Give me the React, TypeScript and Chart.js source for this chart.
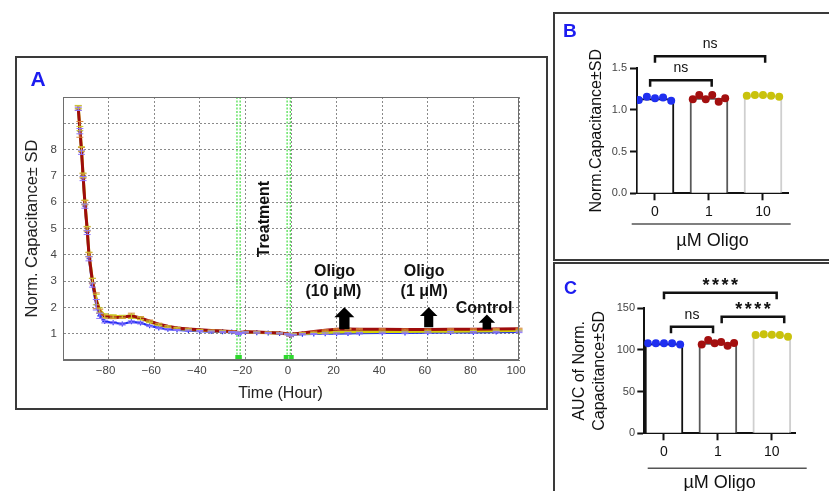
import React, { useEffect, useRef } from 'react';
import { Chart, registerables } from 'chart.js';

Chart.register(...registerables);

const FONT = "'Liberation Sans', Arial, Helvetica, sans-serif";
Chart.defaults.font.family = FONT;
Chart.defaults.color = '#222';

// ---------------- Panel A : normalised capacitance time course ----------------
const timeHours = [
  -93.3, -92.6, -91.9, -91.2, -90.4, -89.4, -88.6, -87.1, -85.4, -83.9,
  -81.7, -78, -74, -70, -66, -62, -58, -54, -50, -45,
  -40, -35, -30, -26, -24, -23, -22, -20, -15, -10,
  -5, -1.5, -0.5, 1, 5, 10, 15, 20, 25, 30,
  40, 50, 60, 70, 80, 90, 100,
];
// dark red trace
const capOligo1 = [
  9.58, 8.77, 8.0, 7.0, 5.98, 4.98, 4.0, 3.0, 2.25, 1.85,
  1.65, 1.62, 1.63, 1.68, 1.6, 1.48, 1.36, 1.28, 1.22, 1.18,
  1.15, 1.12, 1.1, 1.08, 1.07, 1.01, 1.05, 1.07, 1.06, 1.05,
  1.03, 1.0, 0.92, 0.99, 1.03, 1.08, 1.13, 1.17, 1.18, 1.17,
  1.17, 1.16, 1.16, 1.17, 1.17, 1.18, 1.19,
];
// yellow trace
const capOligo10 = [
  9.62, 8.8, 8.03, 7.03, 6.0, 5.0, 4.02, 3.03, 2.3, 1.9,
  1.68, 1.66, 1.65, 1.66, 1.58, 1.45, 1.34, 1.26, 1.2, 1.16,
  1.13, 1.11, 1.09, 1.07, 1.06, 1.0, 1.04, 1.06, 1.05, 1.04,
  1.02, 0.99, 0.93, 0.98, 1.01, 1.03, 1.05, 1.06, 1.07, 1.07,
  1.08, 1.08, 1.09, 1.09, 1.1, 1.11, 1.12,
];
// blue trace
const capControl = [
  9.55, 8.7, 7.9, 6.9, 5.85, 4.85, 3.85, 2.85, 2.1, 1.68,
  1.46, 1.42, 1.37, 1.45, 1.41, 1.3, 1.22, 1.17, 1.14, 1.12,
  1.1, 1.08, 1.07, 1.06, 1.05, 0.99, 1.03, 1.05, 1.04, 1.03,
  1.01, 0.98, 0.93, 0.96, 0.98, 0.99, 1.0, 1.0, 1.01, 1.02,
  1.03, 1.03, 1.04, 1.05, 1.05, 1.06, 1.07,
];
const sdOligo1 = [
  0.08, 0.3, 0.08, 0.08, 0.08, 0.08, 0.08, 0.1, 0.3, 0.08,
  0.06, 0.05, 0.05, 0.1, 0.05, 0.04, 0.04, 0.03, 0.03, 0.03,
  0.02, 0.02, 0.02, 0.02, 0.02, 0.02, 0.02, 0.02, 0.02, 0.02,
  0.02, 0.02, 0.02, 0.02, 0.02, 0.02, 0.02, 0.02, 0.02, 0.02,
  0.02, 0.02, 0.02, 0.02, 0.02, 0.02, 0.02,
];
const sdOligo10 = [
  0.06, 0.08, 0.08, 0.08, 0.08, 0.08, 0.08, 0.08, 0.2, 0.08,
  0.08, 0.06, 0.05, 0.08, 0.05, 0.03, 0.03, 0.03, 0.03, 0.02,
  0.02, 0.02, 0.02, 0.02, 0.02, 0.02, 0.02, 0.02, 0.02, 0.02,
  0.02, 0.02, 0.02, 0.02, 0.02, 0.02, 0.02, 0.02, 0.02, 0.02,
  0.02, 0.02, 0.02, 0.02, 0.02, 0.02, 0.02,
];
const sdControl = [
  0.06, 0.1, 0.08, 0.08, 0.08, 0.08, 0.08, 0.08, 0.2, 0.1,
  0.05, 0.04, 0.04, 0.04, 0.04, 0.03, 0.03, 0.03, 0.02, 0.02,
  0.02, 0.02, 0.02, 0.02, 0.02, 0.02, 0.02, 0.02, 0.02, 0.02,
  0.02, 0.02, 0.02, 0.02, 0.02, 0.02, 0.03, 0.03, 0.03, 0.03,
  0.03, 0.03, 0.03, 0.03, 0.03, 0.03, 0.03,
];

const treatmentTimes = [-23, -1];
const treatmentBoxCounts = [1, 2];

const noteTexts = ['Treatment', 'Oligo', '(10 μM)', 'Oligo', '(1 μM)', 'Control'];
const noteTimes = [-11.8, 19.1, 18.6, 58.4, 58.4, 84.7];
const noteValues = [5.36, 3.36, 2.6, 3.36, 2.6, 1.95];
const noteVertical = [true, false, false, false, false, false];

const arrowTimes = [23.4, 60.4, 85.9];
const arrowTips = [2.01, 2.01, 1.73];
const arrowBases = [1.17, 1.25, 1.17];

// ---------------- Panels B and C ----------------
const doseLabels = ['0', '1', '10'];
const normCapDose0 = [1.12, 1.16, 1.14, 1.15, 1.11];
const normCapDose1 = [1.13, 1.18, 1.13, 1.18, 1.1, 1.14];
const normCapDose10 = [1.17, 1.18, 1.18, 1.17, 1.16];
const aucDose0 = [108, 108, 108, 108, 106.5];
const aucDose1 = [106.7, 111.9, 108, 109.6, 105, 108.4];
const aucDose10 = [118, 118.8, 118.3, 118, 116];

const bracketsB = [
  { from: 0, to: 2.04, y: 1.646, label: 'ns' },
  { from: -0.09, to: 1.05, y: 1.357, label: 'ns' },
];
const bracketsC = [
  { from: 0, to: 2.09, y: 168.6, label: '****' },
  { from: 0.13, to: 0.91, y: 127.8, label: 'ns' },
  { from: 1.07, to: 2.23, y: 139.8, label: '****' },
];

// ---------------- styles ----------------
const RED = '#9e0c0c';
const YELLOW = '#d2d20a';
const BLUE = '#1f2ff0';
const DOT_COLORS = [BLUE, '#a30f0f', '#c9c20c'];
const BAR_EDGES = ['#111111', '#595959', '#cfcfcf'];
const ARROW_HEAD_PX = [20, 17.5, 16.5];

const timecoursePlugin = {
  id: 'timecourse',
  beforeDatasetsDraw(chart: any) {
    const { ctx, chartArea: ca, scales } = chart;
    const xs = scales.x;
    ctx.save();
    treatmentTimes.forEach((t, i) => {
      const px = xs.getPixelForValue(t);
      ctx.strokeStyle = '#52e052';
      ctx.lineWidth = 1.3;
      ctx.setLineDash([2, 1.5]);
      [-1.6, 1.6].forEach((dx) => {
        ctx.beginPath();
        ctx.moveTo(px + dx, ca.top);
        ctx.lineTo(px + dx, ca.bottom);
        ctx.stroke();
      });
      ctx.setLineDash([]);
      const n = treatmentBoxCounts[i];
      const w = n === 1 ? 6.5 : 10;
      ctx.fillStyle = '#2ed82e';
      ctx.fillRect(px - w / 2, ca.bottom - 5, w, 5);
      if (n > 1) {
        ctx.strokeStyle = '#a8f5a8';
        ctx.lineWidth = 1;
        ctx.beginPath();
        ctx.moveTo(px, ca.bottom - 4);
        ctx.lineTo(px, ca.bottom - 1);
        ctx.stroke();
      }
    });
    ctx.restore();
  },
  afterDatasetsDraw(chart: any) {
    const { ctx, chartArea: ca, scales } = chart;
    const xs = scales.x;
    const ys = scales.y;
    ctx.save();
    // error bars
    chart.data.datasets.forEach((ds: any, di: number) => {
      const meta = chart.getDatasetMeta(di);
      ctx.strokeStyle = ds.errColor;
      ctx.lineWidth = 1;
      meta.data.forEach((el: any, j: number) => {
        const v = ds.data[j].y;
        const s = ds.sd[j];
        const y1 = ys.getPixelForValue(v - s);
        const y2 = ys.getPixelForValue(v + s);
        ctx.beginPath();
        ctx.moveTo(el.x, y1);
        ctx.lineTo(el.x, y2);
        ctx.moveTo(el.x - 3.5, y1);
        ctx.lineTo(el.x + 3.5, y1);
        ctx.moveTo(el.x - 3.5, y2);
        ctx.lineTo(el.x + 3.5, y2);
        ctx.stroke();
      });
    });
    // frame
    ctx.strokeStyle = '#6e6e6e';
    ctx.lineWidth = 1;
    ctx.strokeRect(ca.left + 0.5, ca.top + 0.5, ca.right - ca.left - 1, ca.bottom - ca.top - 1);
    // arrows
    ctx.fillStyle = '#000';
    arrowTimes.forEach((t, i) => {
      const px = xs.getPixelForValue(t);
      const tip = ys.getPixelForValue(arrowTips[i]);
      const base = ys.getPixelForValue(arrowBases[i]);
      const hw = ARROW_HEAD_PX[i];
      const hh = hw * 0.5;
      const sw = hw * 0.52;
      ctx.beginPath();
      ctx.moveTo(px, tip);
      ctx.lineTo(px + hw / 2, tip + hh);
      ctx.lineTo(px + sw / 2, tip + hh);
      ctx.lineTo(px + sw / 2, base);
      ctx.lineTo(px - sw / 2, base);
      ctx.lineTo(px - sw / 2, tip + hh);
      ctx.lineTo(px - hw / 2, tip + hh);
      ctx.closePath();
      ctx.fill();
    });
    // text notes
    ctx.fillStyle = '#111';
    ctx.font = `bold 16px ${FONT}`;
    ctx.textAlign = 'center';
    ctx.textBaseline = 'middle';
    noteTexts.forEach((txt, i) => {
      const px = xs.getPixelForValue(noteTimes[i]);
      const py = ys.getPixelForValue(noteValues[i]);
      if (noteVertical[i]) {
        ctx.save();
        ctx.translate(px, py);
        ctx.rotate(-Math.PI / 2);
        ctx.fillText(txt, 0, 0);
        ctx.restore();
      } else {
        ctx.fillText(txt, px, py);
      }
    });
    // x axis title
    ctx.font = `16px ${FONT}`;
    ctx.fillStyle = '#222';
    ctx.fillText('Time (Hour)', (ca.left + ca.right) / 2 - 10.5, ca.bottom + 34);
    ctx.restore();
  },
};

function makeSigPlugin(brackets: any[], groupLine: { dl: number; dr: number; dy: number }) {
  return {
    id: 'sigAnnot',
    afterDraw(chart: any) {
      const { ctx, chartArea: ca, scales } = chart;
      const xs = scales.x;
      const ys = scales.y;
      ctx.save();
      ctx.strokeStyle = '#111';
      ctx.fillStyle = '#111';
      ctx.lineWidth = 2.5;
      ctx.lineJoin = 'miter';
      brackets.forEach((b) => {
        const x0 = xs.getPixelForValue(b.from);
        const x1 = xs.getPixelForValue(b.to);
        const yy = ys.getPixelForValue(b.y);
        ctx.beginPath();
        ctx.moveTo(x0, yy + 6.5);
        ctx.lineTo(x0, yy);
        ctx.lineTo(x1, yy);
        ctx.lineTo(x1, yy + 6.5);
        ctx.stroke();
        const isStars = b.label !== 'ns';
        ctx.font = isStars ? `bold 18px ${FONT}` : `14px ${FONT}`;
        (ctx as any).letterSpacing = isStars ? '2.5px' : '0px';
        ctx.textAlign = 'center';
        ctx.textBaseline = 'alphabetic';
        const m = ctx.measureText(b.label);
        const cx = (x0 + x1) / 2 + (isStars ? 1.25 : 0);
        ctx.fillText(b.label, cx, yy - 8 - m.actualBoundingBoxDescent);
      });
      (ctx as any).letterSpacing = '0px';
      ctx.strokeStyle = '#555';
      ctx.lineWidth = 1.5;
      ctx.beginPath();
      ctx.moveTo(ca.left + groupLine.dl, ca.bottom + groupLine.dy);
      ctx.lineTo(ca.right + groupLine.dr, ca.bottom + groupLine.dy);
      ctx.stroke();
      ctx.restore();
    },
  };
}

function mean(a: number[]) {
  return a.reduce((s, v) => s + v, 0) / a.length;
}

function buildTimecourseConfig(): any {
  const mk = (vals: number[]) => timeHours.map((t, i) => ({ x: t, y: vals[i] }));
  return {
    type: 'line',
    data: {
      datasets: [
        {
          data: mk(capOligo1), sd: sdOligo1, errColor: '#d8843a',
          borderColor: RED, backgroundColor: RED, borderWidth: 3,
          pointRadius: 1.3, pointBorderWidth: 0, order: 0,
        },
        {
          data: mk(capOligo10), sd: sdOligo10, errColor: '#c8c830',
          borderColor: YELLOW, backgroundColor: YELLOW, borderWidth: 3,
          pointRadius: 1.3, pointBorderWidth: 0, order: 1,
        },
        {
          data: mk(capControl), sd: sdControl, errColor: '#8c74ff',
          borderColor: BLUE, backgroundColor: BLUE, borderWidth: 2.2,
          pointStyle: 'cross', pointRadius: 2.5, pointBorderWidth: 1.2,
          pointBorderColor: BLUE, order: 2,
        },
      ],
    },
    options: {
      responsive: false,
      animation: false,
      events: [],
      layout: { padding: { left: 0, top: 39, right: 26, bottom: 0 } },
      plugins: { legend: { display: false }, tooltip: { enabled: false } },
      scales: {
        x: {
          type: 'linear',
          min: -100,
          max: 100,
          ticks: {
            stepSize: 20,
            padding: 4,
            maxRotation: 0,
            autoSkip: false,
            labelOffset: -3,
            font: { size: 11.5 },
            color: '#444',
            callback: (v: number) => (v === -100 ? '' : String(v).replace('-', '\u2212')),
          },
          grid: { color: '#8a8a8a', lineWidth: 1, drawTicks: false },
          border: { display: true, color: '#6e6e6e', dash: [2, 2] },
          afterFit: (s: any) => {
            s.height = 48;
          },
        },
        y: {
          type: 'linear',
          min: 0,
          max: 10,
          ticks: {
            stepSize: 1,
            padding: 6,
            font: { size: 11.5 },
            color: '#444',
            callback: (v: number) => (v >= 1 && v <= 8 ? String(v) : ''),
          },
          grid: { color: '#8a8a8a', lineWidth: 1, drawTicks: false },
          border: { display: true, color: '#6e6e6e', dash: [2, 2] },
          title: {
            display: true,
            text: 'Norm. Capacitance\u00b1 SD',
            font: { size: 16.5 },
            color: '#222',
            padding: { top: 6, bottom: 0 },
          },
          afterFit: (s: any) => {
            s.width = 46;
          },
        },
      },
    },
    plugins: [timecoursePlugin],
  };
}

function buildBarConfig(p: any): any {
  const groups = p.groups as number[][];
  const dotSets = groups.map((vals, gi) => ({
    type: 'scatter',
    data: vals.map((v, i) => ({ x: gi + (vals.length > 1 ? (i / (vals.length - 1) - 0.5) * 0.6 : 0), y: v })),
    backgroundColor: DOT_COLORS[gi],
    borderWidth: 0,
    pointRadius: 4,
    order: 0,
  }));
  return {
    type: 'bar',
    data: {
      datasets: [
        ...dotSets,
        {
          type: 'bar',
          data: groups.map((vals, gi) => ({ x: gi, y: mean(vals) })),
          backgroundColor: '#ffffff',
          borderColor: BAR_EDGES,
          borderWidth: 2,
          barThickness: 38,
          order: 1,
        },
      ],
    },
    options: {
      responsive: false,
      animation: false,
      events: [],
      layout: { padding: p.padding },
      plugins: { legend: { display: false }, tooltip: { enabled: false } },
      scales: {
        x: {
          type: 'linear',
          min: p.xMin,
          max: p.xMax,
          offset: false,
          afterBuildTicks: (s: any) => {
            s.ticks = [0, 1, 2].map((v) => ({ value: v }));
          },
          ticks: {
            padding: p.xTickPad,
            autoSkip: false,
            maxRotation: 0,
            font: { size: 14 },
            color: '#111',
            callback: (v: number) => doseLabels[v] ?? '',
          },
          grid: { offset: false, drawOnChartArea: false, tickLength: 7, tickColor: '#111', tickWidth: 2 },
          border: { display: true, color: '#111', width: 2 },
          title: {
            display: true,
            text: '\u00b5M Oligo',
            font: { size: 18 },
            color: '#111',
            padding: { top: 0, bottom: p.xTitlePadBottom },
          },
          afterFit: (s: any) => {
            s.height = p.xHeight;
          },
        },
        y: {
          type: 'linear',
          min: 0,
          max: p.yMax,
          ticks: {
            stepSize: p.yStep,
            padding: p.yTickPad,
            font: { size: 11 },
            color: '#444',
            callback: (v: number) => Number(v).toFixed(p.yDecimals),
          },
          grid: { drawOnChartArea: false, tickLength: 7, tickColor: '#111', tickWidth: 2 },
          border: { display: true, color: '#111', width: 2 },
          title: {
            display: true,
            text: p.yTitle,
            font: { size: 16 },
            color: '#111',
            padding: { top: p.yTitlePadTop, bottom: 0 },
          },
          afterFit: (s: any) => {
            s.width = p.yWidth;
          },
        },
      },
    },
    plugins: [makeSigPlugin(p.brackets, p.groupLine)],
  };
}

const boxStyle = (left: number, top: number, width: number, height: number): React.CSSProperties => ({
  position: 'absolute',
  left,
  top,
  width,
  height,
  border: '2px solid #3a3a3a',
  boxSizing: 'border-box',
});

const letterStyle = (left: number, top: number, size: number): React.CSSProperties => ({
  position: 'absolute',
  left,
  top,
  font: `bold ${size}px ${FONT}`,
  lineHeight: 1,
  color: '#1c1cf0',
});

export default function App() {
  const aRef = useRef<HTMLCanvasElement>(null);
  const bRef = useRef<HTMLCanvasElement>(null);
  const cRef = useRef<HTMLCanvasElement>(null);

  useEffect(() => {
    const charts = [
      new Chart(aRef.current as HTMLCanvasElement, buildTimecourseConfig()),
      new Chart(
        bRef.current as HTMLCanvasElement,
        buildBarConfig({
          groups: [normCapDose0, normCapDose1, normCapDose10],
          yMax: 1.5,
          yStep: 0.5,
          yDecimals: 1,
          yTitle: 'Norm.Capacitance\u00b1SD',
          xMin: -0.333,
          xMax: 2.463,
          padding: { left: 0, top: 53.3, right: 41, bottom: 0 },
          yWidth: 82,
          xHeight: 62.7,
          yTickPad: 3,
          xTickPad: 3.6,
          yTitlePadTop: 32,
          xTitlePadBottom: 4.5,
          brackets: bracketsB,
          groupLine: { dl: -5.3, dr: 2.7, dy: 30.7 },
        })
      ),
      new Chart(
        cRef.current as HTMLCanvasElement,
        buildBarConfig({
          groups: [aucDose0, aucDose1, aucDose10],
          yMax: 150,
          yStep: 50,
          yDecimals: 0,
          yTitle: ['AUC of Norm.', 'Capacitance\u00b1SD'],
          xMin: -0.365,
          xMax: 2.43,
          padding: { left: 0, top: 43.3, right: 34, bottom: 0 },
          yWidth: 89.3,
          xHeight: 71.7,
          yTickPad: 2.3,
          xTickPad: 3,
          yTitlePadTop: 15.4,
          xTitlePadBottom: 10.9,
          brackets: bracketsC,
          groupLine: { dl: 3.4, dr: 11.7, dy: 35 },
        })
      ),
    ];
    return () => charts.forEach((c) => c.destroy());
  }, []);

  return (
    <div
      style={{
        position: 'absolute',
        left: 0,
        top: 0,
        width: 829,
        height: 491,
        overflow: 'hidden',
        background: '#ffffff',
        fontFamily: FONT,
      }}
    >
      <div style={boxStyle(15, 56, 533, 354)} />
      <div style={boxStyle(553, 12, 300, 249)} />
      <div style={boxStyle(553, 262, 300, 300)} />
      <canvas ref={aRef} width={528} height={350} style={{ position: 'absolute', left: 17, top: 58, width: 528, height: 350 }} />
      <canvas ref={bRef} width={274} height={241} style={{ position: 'absolute', left: 555, top: 15, width: 274, height: 241 }} />
      <canvas ref={cRef} width={274} height={240} style={{ position: 'absolute', left: 555, top: 265, width: 274, height: 240 }} />
      <div style={letterStyle(30.5, 68, 21)}>A</div>
      <div style={letterStyle(563, 20.8, 19)}>B</div>
      <div style={letterStyle(564, 279.3, 18)}>C</div>
    </div>
  );
}
